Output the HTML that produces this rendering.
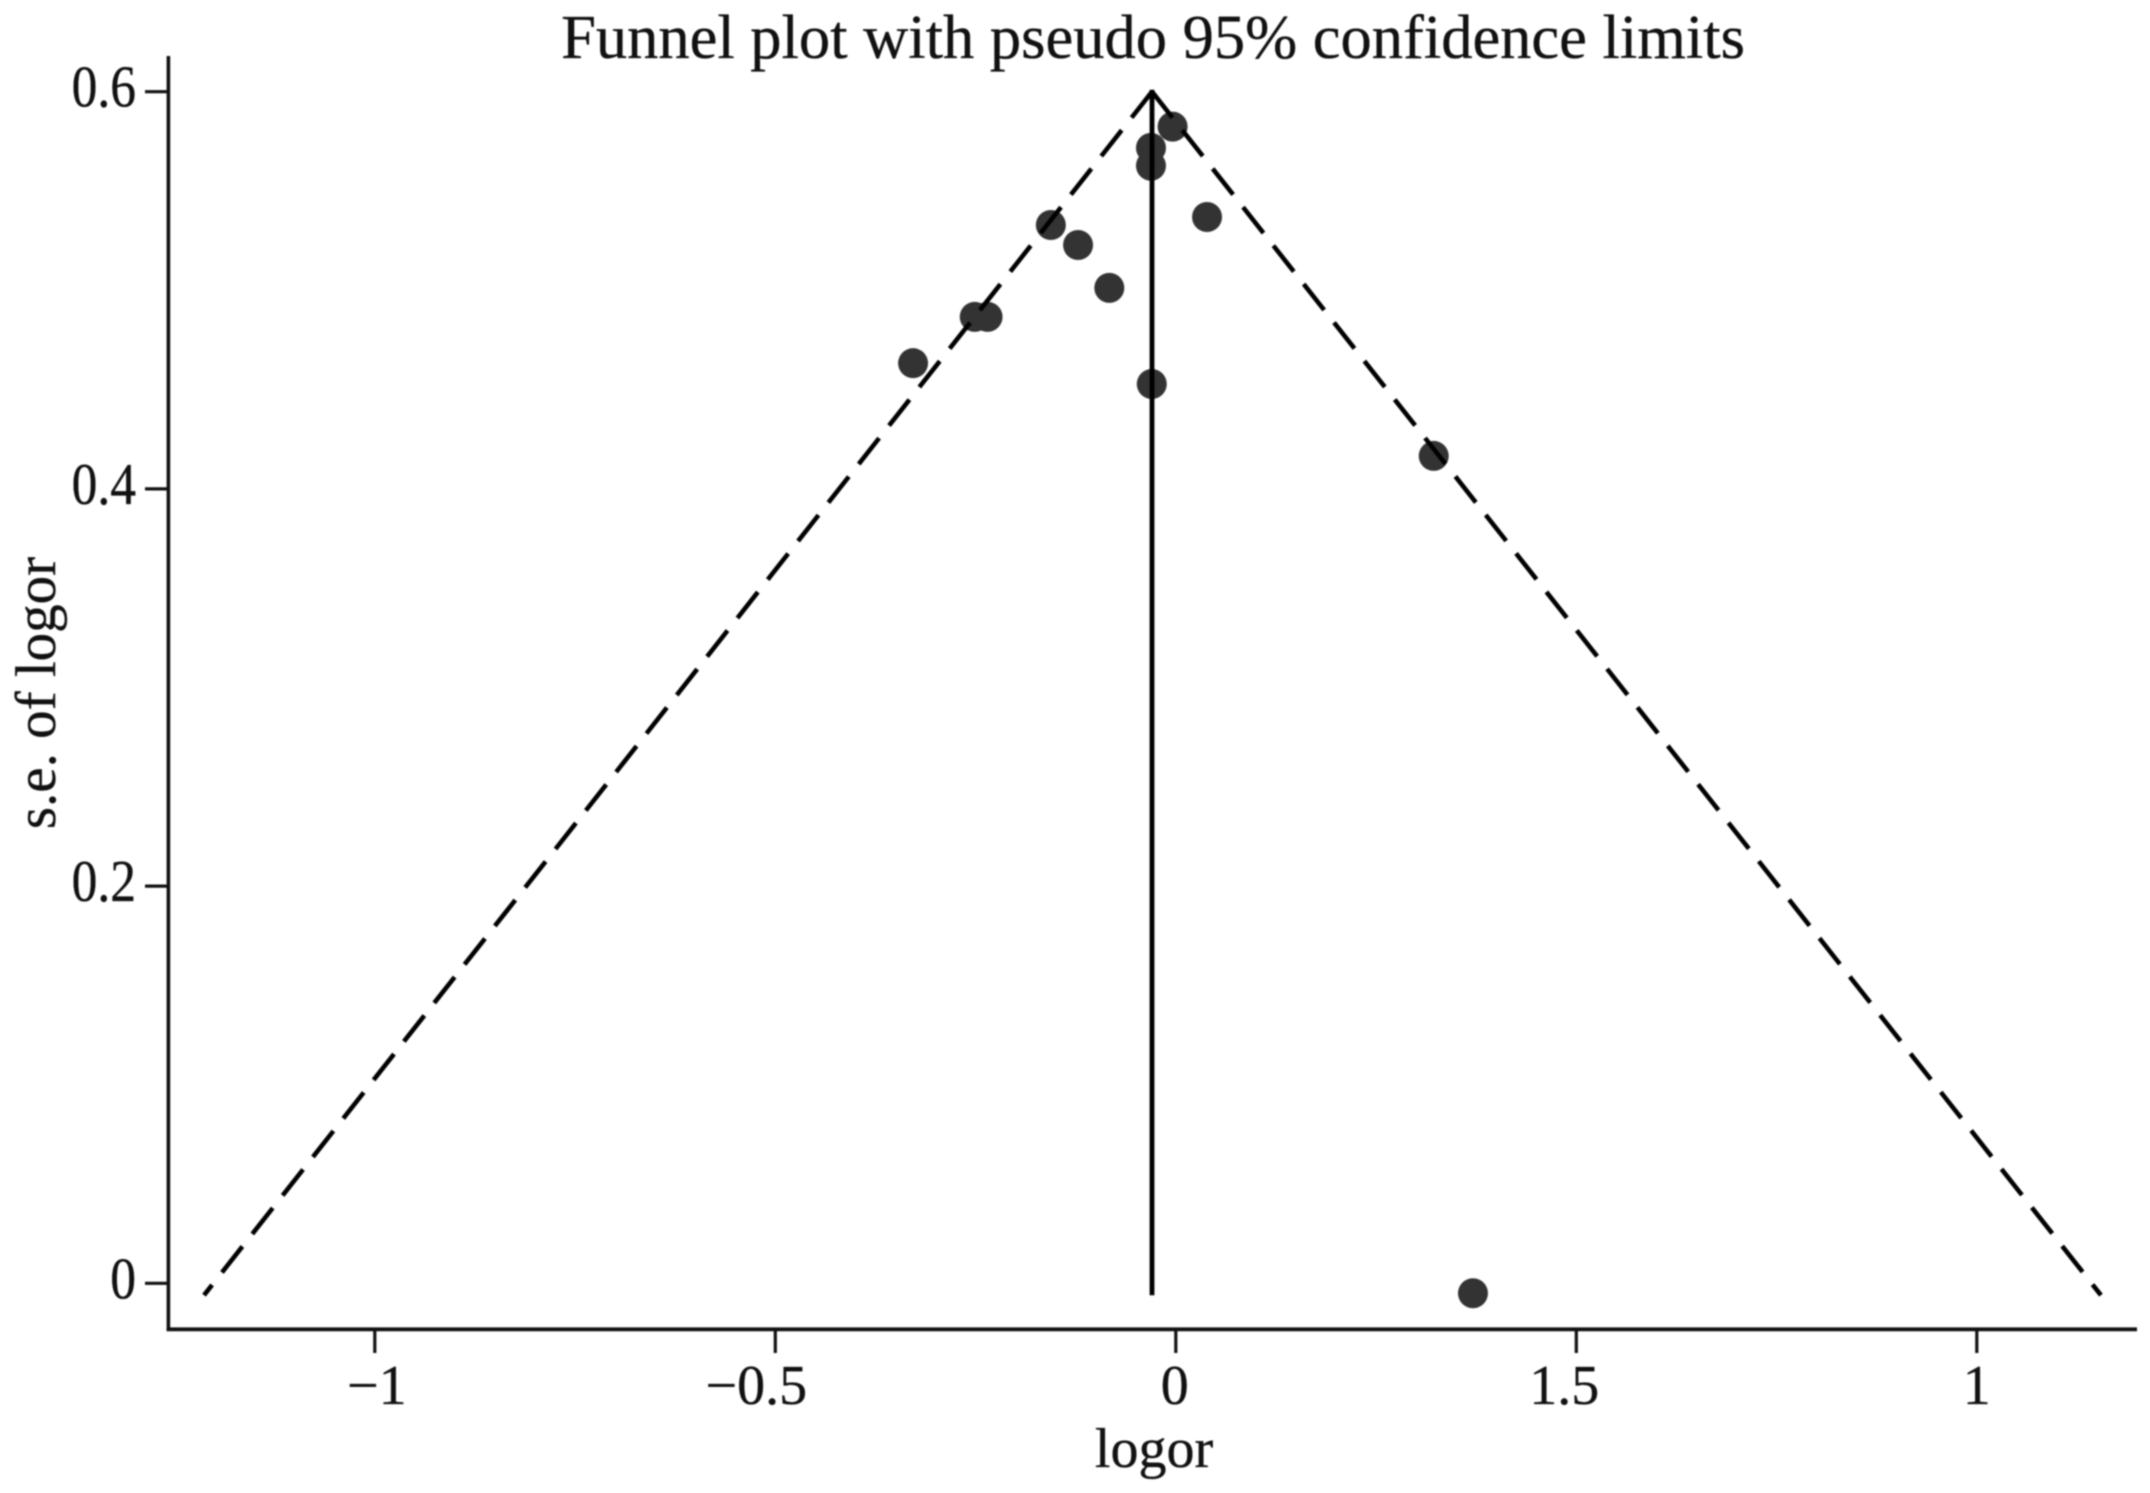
<!DOCTYPE html>
<html lang="en">
<head>
<meta charset="utf-8">
<title>Funnel plot with pseudo 95% confidence limits</title>
<style>
  html, body { margin: 0; padding: 0; background: #fff; }
  body { width: 2150px; height: 1493px; overflow: hidden; }
  svg { display: block; filter: blur(0.8px); }
  text { font-family: "Liberation Serif", "Times New Roman", serif; fill: #111; stroke: #111; stroke-width: 0.35px; }
</style>
</head>
<body>
<svg id="chart" xmlns="http://www.w3.org/2000/svg" width="2150" height="1493" viewBox="0 0 2150 1493">
  <rect x="0" y="0" width="2150" height="1493" fill="#fff"/>
  <text x="1153" y="58" font-size="62.5" text-anchor="middle">Funnel plot with pseudo 95% confidence limits</text>
  <text x="1154" y="1467" font-size="56" text-anchor="middle">logor</text>
  <text x="55" y="693" font-size="57" text-anchor="middle" transform="rotate(-90 55 693)">s.e. of logor</text>
  <g id="points"></g>
  <g id="funnel"></g>
  <g id="axes"></g>
</svg>
<script>
// Chart data
const studyLogor = [-0.004, -0.031, -0.031, 0.039, -0.156, -0.122, -0.083, -0.235, -0.251, -0.328, -0.030, 0.322, 0.371];
const studySe = [0.5824, 0.5717, 0.5627, 0.5369, 0.5329, 0.5228, 0.5012, 0.4866, 0.4866, 0.4633, 0.4528, 0.4166, -0.005];
const xTickValues = [-1, -0.5, 0, 0.5, 1];
const xTickLabels = ['\u22121', '\u22120.5', '0', '1.5', '1'];
const yTickValues = [0, 0.2, 0.4, 0.6];
const yTickLabels = ['0', '0.2', '0.4', '0.6'];
const funnelCenter = [-0.0297];
const funnelLowerLimit = [-1.2132];
const funnelUpperLimit = [1.155];
const funnelSeRange = [0.6, -0.006];

// Axis functions
function xScale(v) { return 1175.8 + 801 * v; }
function yScale(v) { return 1283.3 - 1986 * v; }

const SVG_NS = 'http://www.w3.org/2000/svg';
function make(tag, attrs) {
  const el = document.createElementNS(SVG_NS, tag);
  Object.keys(attrs).forEach(function (k) { el.setAttribute(k, attrs[k]); });
  return el;
}

const pointsLayer = document.getElementById('points');
const funnelLayer = document.getElementById('funnel');
const axesLayer = document.getElementById('axes');

// Study points
studyLogor.forEach(function (v, i) {
  const c = make('circle', { cx: xScale(v), cy: yScale(studySe[i]), r: 15, fill: '#333' });
  
  
  pointsLayer.appendChild(c);
});

// Funnel limits
const apexX = xScale(funnelCenter[0]);
const apexY = yScale(funnelSeRange[0]);
const baseY = yScale(funnelSeRange[1]);

const leftLimit = make('line', { x1: apexX, y1: apexY, x2: xScale(funnelLowerLimit[0]), y2: baseY, stroke: '#000', 'stroke-width': 4.6, 'stroke-dasharray': '33 16' });


funnelLayer.appendChild(leftLimit);

const rightLimit = make('line', { x1: apexX, y1: apexY, x2: xScale(funnelUpperLimit[0]), y2: baseY, stroke: '#000', 'stroke-width': 4.6, 'stroke-dasharray': '33 16' });


funnelLayer.appendChild(rightLimit);

const centerLine = make('line', { x1: apexX, y1: apexY - 2, x2: apexX, y2: baseY, stroke: '#000', 'stroke-width': 4.8 });


funnelLayer.appendChild(centerLine);

// Axis lines
const yAxisLine = make('line', { x1: 168.4, y1: 56, x2: 168.4, y2: 1331, stroke: '#111', 'stroke-width': 3.6 });


axesLayer.appendChild(yAxisLine);

const xAxisLine = make('line', { x1: 166.6, y1: 1329.3, x2: 2137, y2: 1329.3, stroke: '#111', 'stroke-width': 3.8 });


axesLayer.appendChild(xAxisLine);

// X ticks
const xLabelShift = { '\u22121': 2, '\u22120.5': -19, '0': -1, '1.5': -12 };
xTickValues.forEach(function (v, i) {
  const px = xScale(v);
  const tick = make('line', { x1: px, y1: 1329, x2: px, y2: 1353, stroke: '#111', 'stroke-width': 3.2 });
  
  
  axesLayer.appendChild(tick);
  const shift = xLabelShift[xTickLabels[i]] || 0;
  const label = make('text', { x: px + shift, y: 1404, 'font-size': 56, 'text-anchor': 'middle' });
  label.textContent = xTickLabels[i];
  
  
  axesLayer.appendChild(label);
});

// Y ticks
yTickValues.forEach(function (v, i) {
  const py = yScale(v);
  const tick = make('line', { x1: 145, y1: py, x2: 168, y2: py, stroke: '#111', 'stroke-width': 3.2 });
  
  
  axesLayer.appendChild(tick);
  const label = make('text', { x: 0, y: 0, 'font-size': 56, 'text-anchor': 'end', transform: 'translate(136 ' + (py + 15) + ') scale(0.92 1.05)' });
  label.textContent = yTickLabels[i];
  
  
  axesLayer.appendChild(label);
});
</script>
</body>
</html>
